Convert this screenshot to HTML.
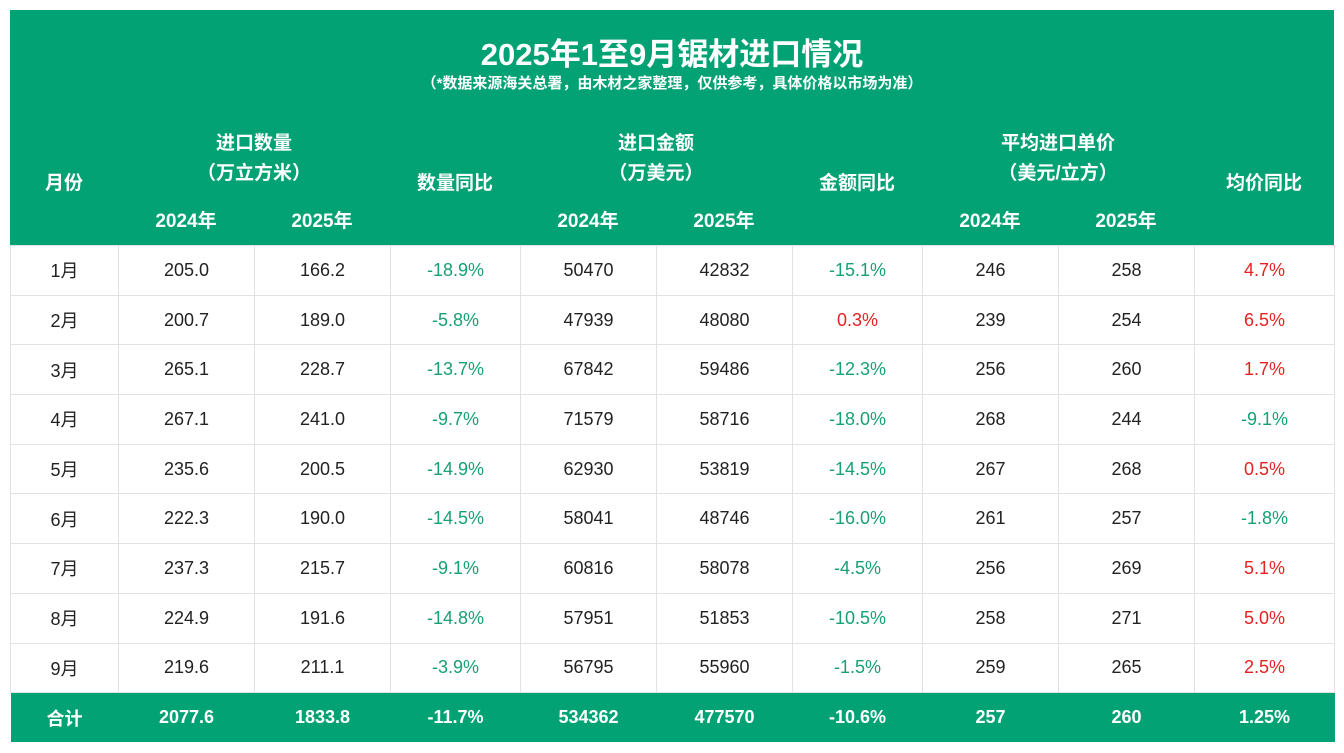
<!DOCTYPE html>
<html><head><meta charset="utf-8"><style>
*{margin:0;padding:0;box-sizing:border-box}
body{width:1344px;height:753px;background:#fff;position:relative;overflow:hidden;font-family:"Liberation Sans","Noto Sans CJK SC",sans-serif}
.g{position:absolute;background:#03a274}
.t{position:absolute;color:#fff;font-weight:bold;text-align:center;white-space:nowrap;transform:translateX(-50%)}
table{position:absolute;left:10px;top:245px;border-collapse:collapse;table-layout:fixed}
td{height:49.7px;border:1px solid #e2e2e2;text-align:center;font-size:18px;color:#222;padding:0}
.n{color:#17a171}.r{color:#e52222}
tr.tot td{background:#03a274;color:#fff;font-weight:bold;border:none;font-size:18px}
</style></head><body>
<div class="g" style="left:10px;top:10px;width:1324px;height:235px"></div>
<div class="t" style="left:672px;top:29px;font-size:31px">2025年1至9月锯材进口情况</div>
<div class="t" style="left:672px;top:72px;font-size:15px">（*数据来源海关总署，由木材之家整理，仅供参考，具体价格以市场为准）</div>
<div class="t" style="left:254px;top:128px;font-size:19px">进口数量</div>
<div class="t" style="left:254px;top:158px;font-size:19px">（万立方米）</div>
<div class="t" style="left:656px;top:128px;font-size:19px">进口金额</div>
<div class="t" style="left:656px;top:158px;font-size:19px">（万美元）</div>
<div class="t" style="left:1058px;top:128px;font-size:19px">平均进口单价</div>
<div class="t" style="left:1058px;top:158px;font-size:19px">（美元/立方）</div>
<div class="t" style="left:64px;top:168px;font-size:19px">月份</div>
<div class="t" style="left:455px;top:168px;font-size:19px">数量同比</div>
<div class="t" style="left:857px;top:168px;font-size:19px">金额同比</div>
<div class="t" style="left:1264px;top:168px;font-size:19px">均价同比</div>
<div class="t" style="left:186px;top:206px;font-size:19px">2024年</div>
<div class="t" style="left:322px;top:206px;font-size:19px">2025年</div>
<div class="t" style="left:588px;top:206px;font-size:19px">2024年</div>
<div class="t" style="left:724px;top:206px;font-size:19px">2025年</div>
<div class="t" style="left:990px;top:206px;font-size:19px">2024年</div>
<div class="t" style="left:1126px;top:206px;font-size:19px">2025年</div>
<table>
<colgroup><col style="width:108px"><col style="width:136px"><col style="width:136px"><col style="width:130px"><col style="width:136px"><col style="width:136px"><col style="width:130px"><col style="width:136px"><col style="width:136px"><col style="width:140px"></colgroup>
<tr><td>1月</td><td>205.0</td><td>166.2</td><td class="n">-18.9%</td><td>50470</td><td>42832</td><td class="n">-15.1%</td><td>246</td><td>258</td><td class="r">4.7%</td></tr>
<tr><td>2月</td><td>200.7</td><td>189.0</td><td class="n">-5.8%</td><td>47939</td><td>48080</td><td class="r">0.3%</td><td>239</td><td>254</td><td class="r">6.5%</td></tr>
<tr><td>3月</td><td>265.1</td><td>228.7</td><td class="n">-13.7%</td><td>67842</td><td>59486</td><td class="n">-12.3%</td><td>256</td><td>260</td><td class="r">1.7%</td></tr>
<tr><td>4月</td><td>267.1</td><td>241.0</td><td class="n">-9.7%</td><td>71579</td><td>58716</td><td class="n">-18.0%</td><td>268</td><td>244</td><td class="n">-9.1%</td></tr>
<tr><td>5月</td><td>235.6</td><td>200.5</td><td class="n">-14.9%</td><td>62930</td><td>53819</td><td class="n">-14.5%</td><td>267</td><td>268</td><td class="r">0.5%</td></tr>
<tr><td>6月</td><td>222.3</td><td>190.0</td><td class="n">-14.5%</td><td>58041</td><td>48746</td><td class="n">-16.0%</td><td>261</td><td>257</td><td class="n">-1.8%</td></tr>
<tr><td>7月</td><td>237.3</td><td>215.7</td><td class="n">-9.1%</td><td>60816</td><td>58078</td><td class="n">-4.5%</td><td>256</td><td>269</td><td class="r">5.1%</td></tr>
<tr><td>8月</td><td>224.9</td><td>191.6</td><td class="n">-14.8%</td><td>57951</td><td>51853</td><td class="n">-10.5%</td><td>258</td><td>271</td><td class="r">5.0%</td></tr>
<tr><td>9月</td><td>219.6</td><td>211.1</td><td class="n">-3.9%</td><td>56795</td><td>55960</td><td class="n">-1.5%</td><td>259</td><td>265</td><td class="r">2.5%</td></tr>
<tr class="tot"><td>合计</td><td>2077.6</td><td>1833.8</td><td>-11.7%</td><td>534362</td><td>477570</td><td>-10.6%</td><td>257</td><td>260</td><td>1.25%</td></tr>
</table>
</body></html>
